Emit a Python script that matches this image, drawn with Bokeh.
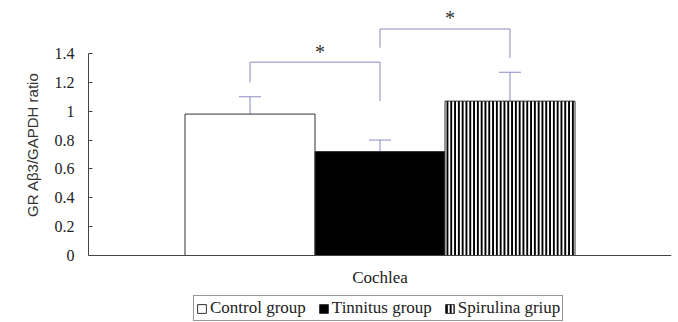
from bokeh.plotting import figure
from bokeh.models import (FactorRange, Range1d, FixedTicker, Legend, LegendItem,
                          Whisker, TeeHead, ColumnDataSource)
from bokeh.core.properties import value
from bokeh.embed import file_html
from bokeh.resources import INLINE

# ---- data ----
category = "Cochlea"
groups = ["Control group", "Tinnitus group", "Spirulina griup"]
ratios = [0.98, 0.72, 1.07]
errors = [0.12, 0.08, 0.20]
y_ticks = [0, 0.2, 0.4, 0.6, 0.8, 1.0, 1.2, 1.4]
y_tick_labels = ["0", "0.2", "0.4", "0.6", "0.8", "1", "1.2", "1.4"]
y_title = "GR A\u03b23/GAPDH ratio"
# significance brackets: (left group, right group), heights
bracket_pairs = [(0, 1), (1, 2)]
bracket_left_y = [1.20, 1.44]
bracket_top_y = [1.34, 1.57]
bracket_right_y = [1.07, 1.37]
star_y = [1.41, 1.645]
stars = ["*", "*"]

# ---- styles ----
fills = ["white", "black", "white"]
hatches = [None, None, "vertical_line"]
err_color = "#8a8ac4"
axis_color = "#444444"
bar_w = 130 / 583
px_per_unit = 202 / 1.4

p = figure(width=678, height=322, output_backend="svg", toolbar_location=None,
           x_range=FactorRange(factors=[category], range_padding=0),
           y_range=Range1d(-67 / px_per_unit, 247 / px_per_unit),
           min_border_left=88, min_border_right=7, min_border_top=8,
           min_border_bottom=0)
p.outline_line_color = None
p.xgrid.grid_line_color = None
p.ygrid.grid_line_color = None

centers = [0.5 + (i - 1) * bar_w for i in range(len(groups))]

items = []
for i, g in enumerate(groups):
    src = ColumnDataSource(dict(x=[centers[i]], top=[ratios[i]],
                                upper=[ratios[i] + errors[i]]))
    kw = {}
    if hatches[i]:
        kw = dict(hatch_pattern=hatches[i], hatch_scale=3.8, hatch_weight=2,
                  hatch_color="black")
    r = p.vbar(x="x", top="top", bottom=0, width=bar_w, source=src,
               fill_color=fills[i], line_color="#333333", line_width=1, **kw)
    items.append(LegendItem(label=g, renderers=[r]))
    w = Whisker(base="x", upper="upper", lower="top", source=src,
                dimension="height", line_color=err_color, line_width=1,
                lower_head=None,
                upper_head=TeeHead(size=22, line_color=err_color, line_width=1))
    p.add_layout(w)

# brackets
bx, by = [], []
for k, (a, b) in enumerate(bracket_pairs):
    bx.append([centers[a], centers[a], centers[b], centers[b]])
    by.append([bracket_left_y[k], bracket_top_y[k], bracket_top_y[k], bracket_right_y[k]])
p.multi_line(xs=bx, ys=by, line_color=err_color, line_width=1)

sx = [(centers[a] + centers[b]) / 2 for a, b in bracket_pairs]
p.text(x=sx, y=star_y, text=stars, text_align="center", text_baseline="middle",
       text_font=value("Liberation Serif"), text_font_size="20px",
       text_color="#333333", x_offset=5)

# axes
ya = p.yaxis[0]
ya.bounds = (0, 1.4)
ya.ticker = FixedTicker(ticks=y_ticks)
ya.major_label_overrides = {t: l for t, l in zip(y_ticks, y_tick_labels)}
ya.minor_tick_line_color = None
ya.major_tick_out = 0
ya.major_tick_in = 4
ya.major_label_standoff = 14
ya.axis_line_color = axis_color
ya.major_tick_line_color = axis_color
ya.major_label_text_font = "Liberation Serif"
ya.major_label_text_font_size = "16px"
ya.major_label_text_color = "#222222"
# leading no-break spaces shift the rotated title up to centre it on the 0-1.4 span
ya.axis_label = "\u00a0" * 10 + y_title
ya.axis_label_text_font = "Liberation Sans"
ya.axis_label_text_font_size = "15px"
ya.axis_label_text_font_style = "normal"
ya.axis_label_text_color = "#333333"
ya.axis_label_standoff = 11

xa = p.xaxis[0]
xa.fixed_location = 0
xa.major_tick_line_color = None
xa.minor_tick_line_color = None
xa.major_tick_out = 0
xa.major_label_standoff = 12
xa.axis_line_color = axis_color
xa.major_label_text_font = "Liberation Serif"
xa.major_label_text_font_size = "17px"
xa.major_label_text_color = "#222222"

legend = Legend(items=items, orientation="horizontal", location=(105, 1),
                label_text_font="Liberation Serif", label_text_font_size="17px",
                label_text_color="#222222",
                glyph_width=11, glyph_height=11, label_standoff=3, spacing=12,
                padding=2, margin=0, border_line_color="#333333",
                border_line_width=1, background_fill_alpha=1)
p.add_layout(legend, "center")

open("out.html", "w").write(file_html(p, INLINE))
